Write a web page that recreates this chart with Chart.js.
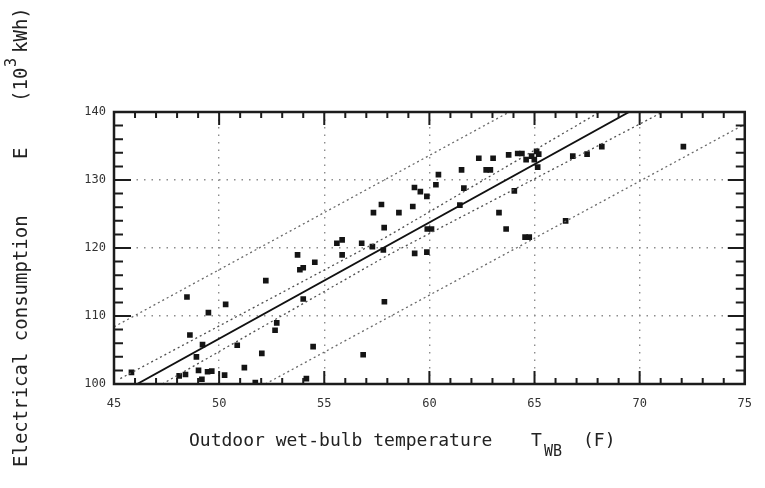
<!DOCTYPE html>
<html lang="en">
<head>
<meta charset="UTF-8">
<title>Electrical consumption vs wet-bulb temperature</title>
<script src="https://cdn.jsdelivr.net/npm/chart.js"></script>
<style>
  body { margin: 0; background: #fff; }
  canvas { display: block; }
</style>
</head>
<body>
<canvas id="usageChart" width="765" height="488"></canvas>
<script>
// measured days: outdoor wet-bulb temperature (F) and consumption (10^3 kWh)
const tempF = [45.83, 48.1, 48.4, 48.47, 48.61, 48.92, 49.02, 49.18, 49.21, 49.49, 49.45, 49.65,
  50.26, 50.31, 50.86, 51.2, 51.72, 52.03, 52.22, 52.66, 52.74, 53.73, 53.84, 54.0, 54.0, 54.15,
  54.47, 54.55, 55.6, 55.85, 55.85, 56.78, 56.85, 57.29, 57.34, 57.72, 57.81, 57.85, 57.86, 58.55,
  59.21, 59.29, 59.3, 59.57, 59.88, 59.88, 59.9, 60.1, 60.31, 60.43, 61.45, 61.53, 61.64, 62.35,
  62.7, 62.9, 63.03, 63.31, 63.65, 63.77, 64.2, 64.4, 64.04, 64.6, 64.55, 64.75, 64.86, 64.99,
  65.1, 65.2, 65.15, 66.48, 66.82, 67.5, 68.2, 72.08];
const kwh = [101.7, 101.2, 101.4, 112.8, 107.2, 104.0, 102.0, 100.7, 105.8, 110.5, 101.8, 101.9,
  101.3, 111.7, 105.7, 102.4, 100.2, 104.5, 115.2, 107.9, 109.0, 119.0, 116.8, 117.1, 112.5, 100.8,
  105.5, 117.9, 120.7, 121.2, 119.0, 120.7, 104.3, 120.2, 125.2, 126.4, 119.7, 123.0, 112.1, 125.2,
  126.1, 128.9, 119.2, 128.3, 127.6, 119.4, 122.8, 122.8, 129.3, 130.8, 126.3, 131.5, 128.8, 133.2,
  131.5, 131.5, 133.2, 125.2, 122.8, 133.7, 133.9, 133.9, 128.4, 133.0, 121.6, 121.6, 133.5, 133.0,
  134.2, 133.8, 131.9, 124.0, 133.5, 133.8, 134.9, 134.9];

// regression line and bands
const fitX = [46.1, 69.5];
const fitY = [100, 140];
const innerUpX = [45.3, 58, 68.1];
const innerUpY = [100.8, 121.7, 140];
const innerLowX = [47.3, 58, 71.1];
const innerLowY = [100, 118.9, 140];
const outerUpX = [45, 63.8];
const outerUpY = [108.4, 140];
const outerLowX = [52.2, 75];
const outerLowY = [100, 138.2];

const xTicks = [45, 50, 55, 60, 65, 70, 75];
const yTicks = [100, 110, 120, 130, 140];

const mono = "'DejaVu Sans Mono', 'Liberation Mono', monospace";
const toXY = (xs, ys) => xs.map((v, i) => ({ x: v, y: ys[i] }));

function bandLine(xs, ys, color, dash) {
    return {
        type: 'line',
        data: toXY(xs, ys),
        borderColor: color,
        borderWidth: 1.3,
        borderDash: dash,
        pointRadius: 0,
        fill: false,
        tension: 0
    };
}

// frame, inward ticks on all four sides, and the axis titles
const paperFrame = {
    id: 'paperFrame',
    afterDraw(chart) {
        const { ctx, chartArea: a, scales: { x, y } } = chart;
        ctx.save();
        ctx.strokeStyle = '#1c1c1c';
        ctx.lineWidth = 2;
        ctx.beginPath();
        for (let v = x.min; v <= x.max; v++) {
            const px = x.getPixelForValue(v);
            const len = v % 5 === 0 ? 13 : 6;
            ctx.moveTo(px, a.bottom); ctx.lineTo(px, a.bottom - len);
            ctx.moveTo(px, a.top); ctx.lineTo(px, a.top + len);
        }
        for (let v = y.min; v <= y.max; v += 2) {
            const py = y.getPixelForValue(v);
            const len = v % 10 === 0 ? 17 : 9;
            ctx.moveTo(a.left, py); ctx.lineTo(a.left + len, py);
            ctx.moveTo(a.right, py); ctx.lineTo(a.right - len, py);
        }
        ctx.stroke();
        ctx.lineWidth = 2.5;
        ctx.strokeRect(a.left, a.top, a.right - a.left, a.bottom - a.top);

        ctx.fillStyle = '#222';
        ctx.textBaseline = 'alphabetic';
        ctx.textAlign = 'left';

        // x title
        ctx.font = '18px ' + mono;
        ctx.fillText('Outdoor wet-bulb temperature', 189, 446);
        ctx.fillText('T', 531, 446);
        ctx.fillText('(F)', 583, 446);
        ctx.font = '15px ' + mono;
        ctx.fillText('WB', 544, 456);

        // y title, rotated
        ctx.translate(27, 467);
        ctx.rotate(-Math.PI / 2);
        ctx.font = '19px ' + mono;
        ctx.fillText('Electrical consumption', 0, 0);
        ctx.fillText('E', 308, 0);
        ctx.fillText('(10', 365, 0);
        ctx.fillText('kWh)', 414, 0);
        ctx.font = '15px ' + mono;
        ctx.fillText('3', 400, -11);
        ctx.restore();
    }
};

const gridStyle = { color: '#8c8c8c', lineWidth: 1.4, drawTicks: false };
const gridBorder = { display: false, dash: [1.5, 6] };
const tickFont = { family: mono, size: 12 };

new Chart(document.getElementById('usageChart').getContext('2d'), {
    type: 'scatter',
    data: {
        datasets: [
            bandLine(outerUpX, outerUpY, '#6a6a6a', [2, 3]),
            bandLine(outerLowX, outerLowY, '#6a6a6a', [2, 3]),
            bandLine(innerUpX, innerUpY, '#505050', [2, 3]),
            bandLine(innerLowX, innerLowY, '#505050', [2, 3]),
            {
                type: 'line',
                data: toXY(fitX, fitY),
                borderColor: '#111',
                borderWidth: 1.9,
                pointRadius: 0,
                fill: false
            },
            {
                data: toXY(tempF, kwh),
                pointStyle: 'rect',
                pointRadius: 4,
                backgroundColor: '#141414',
                borderColor: '#141414',
                borderWidth: 0
            }
        ]
    },
    options: {
        responsive: false,
        animation: false,
        layout: { padding: { left: 0, top: 112, right: 14, bottom: 0 } },
        plugins: { legend: { display: false }, tooltip: { enabled: false } },
        scales: {
            x: {
                type: 'linear',
                min: 45,
                max: 75,
                afterFit: s => { s.height = 104; },
                afterBuildTicks: s => { s.ticks = xTicks.map(v => ({ value: v })); },
                ticks: { padding: 13, font: tickFont, color: '#333' },
                grid: gridStyle,
                border: gridBorder
            },
            y: {
                min: 100,
                max: 140,
                afterFit: s => { s.width = 114; },
                afterBuildTicks: s => { s.ticks = yTicks.map(v => ({ value: v })); },
                ticks: { padding: 8, font: tickFont, color: '#333' },
                grid: gridStyle,
                border: gridBorder
            }
        }
    },
    plugins: [paperFrame]
});
</script>
</body>
</html>
